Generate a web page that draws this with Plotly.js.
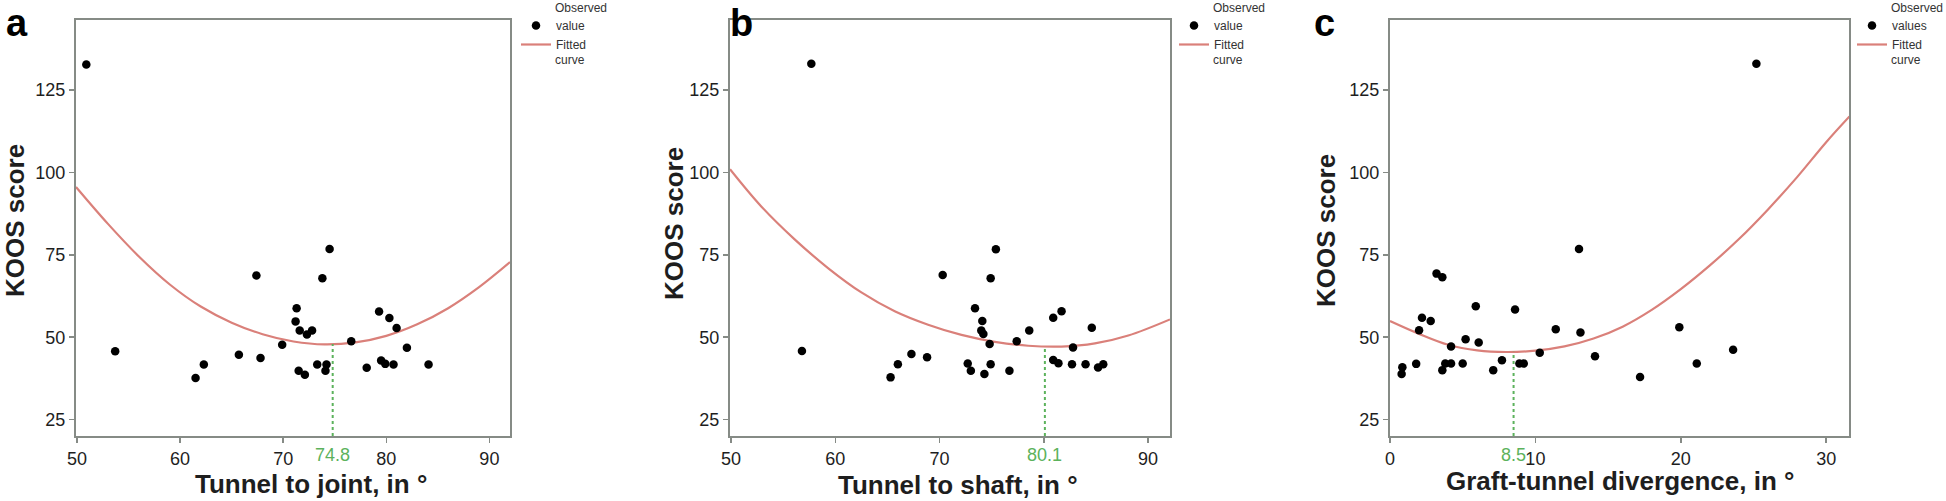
<!DOCTYPE html>
<html>
<head>
<meta charset="utf-8">
<script src="https://cdn.plot.ly/plotly-3.0.1.min.js"></script>
<style>
  html, body { margin: 0; padding: 0; background: #fff; }
  #chart { width: 1946px; height: 501px; }
</style>
</head>
<body>
<div id="chart"></div>
<script>
// ---------------- DATA ----------------
// Panel a: Tunnel to joint
const jointAngle = [50.9, 53.7, 61.5, 62.3, 65.7, 67.4, 67.8, 69.9, 71.3, 71.2, 71.6, 71.5, 72.1, 72.3, 72.8,
                    73.3, 73.8, 74.1, 74.2, 74.5, 76.6, 78.1, 79.3, 79.5, 79.9, 80.3, 80.7, 81.0, 82.0, 84.1];
const jointKoos  = [132.8, 45.7, 37.6, 41.7, 44.7, 68.7, 43.7, 47.7, 58.8, 54.8, 52.0, 39.8, 38.6, 50.8, 52.0,
                    41.7, 67.9, 39.8, 41.7, 76.8, 48.8, 40.7, 57.8, 42.9, 41.9, 55.8, 41.7, 52.8, 46.8, 41.7];
const jointFitX  = [49.9, 53, 56, 59, 62, 65, 68, 71, 74, 77, 80, 83, 86, 89, 92];
const jointFitY  = [95.6, 84.4, 74.5, 66.0, 59.3, 54.4, 50.9, 48.7, 47.8, 48.4, 50.4, 53.9, 58.8, 65.2, 72.8];

// Panel b: Tunnel to shaft
const shaftAngle = [57.7, 56.8, 65.3, 66.0, 67.3, 68.8, 70.3, 72.7, 73.0, 73.4, 74.1, 74.0, 74.2, 74.3, 74.8, 74.9,
                    74.9, 75.4, 76.7, 77.4, 78.6, 80.9, 80.9, 81.4, 81.7, 82.7, 82.8, 84.0, 84.6, 85.2, 85.7];
const shaftKoos  = [133.0, 45.8, 37.8, 41.8, 44.9, 43.9, 68.9, 42.0, 39.8, 58.8, 54.9, 52.0, 51.0, 38.8, 47.9, 41.8,
                    67.9, 76.7, 39.8, 48.8, 52.0, 55.9, 43.1, 42.1, 57.9, 41.8, 46.9, 41.8, 52.9, 40.8, 41.8];
const shaftFitX  = [49.9, 52.9, 56.1, 59.3, 62.5, 65.7, 68.9, 72.1, 75.3, 78.5, 81.7, 84.9, 88.1, 92.1];
const shaftFitY  = [101.0, 89.7, 79.7, 71.0, 63.6, 57.9, 53.8, 50.7, 48.6, 47.4, 47.15, 48.1, 50.5, 55.4];

// Panel c: Graft-tunnel divergence
const divAngle = [25.2, 0.8, 0.85, 1.8, 2.0, 2.2, 2.8, 3.2, 3.6, 3.6, 3.8, 4.2, 4.2, 5.0, 5.2, 5.9,
                  6.1, 7.1, 7.7, 8.6, 8.9, 9.2, 10.3, 11.4, 13.0, 13.1, 14.1, 17.2, 19.9, 21.1, 23.6];
const divKoos  = [133.0, 38.8, 40.9, 41.9, 52.1, 55.9, 54.9, 69.3, 68.2, 40.0, 42.0, 47.2, 42.0, 42.0, 49.4, 59.4,
                  48.4, 40.0, 43.0, 58.4, 42.0, 42.0, 45.3, 52.4, 76.8, 51.4, 44.2, 37.9, 53.0, 42.0, 46.2];
const divFitX  = [0, 2, 4, 6, 8, 10, 12, 14, 16, 18, 20, 22, 24, 26, 28, 30, 31.6];
const divFitY  = [54.9, 51.0, 47.7, 46.0, 45.5, 45.9, 47.2, 49.6, 53.2, 58.3, 64.6, 71.8, 79.8, 88.8, 98.6, 109.2, 117.0];

// Optimum (minimum of fitted curve) per panel
const optimumX     = [74.8, 80.1, 8.5];
const optimumY     = [47.9, 47.1, 45.6];
const optimumLabel = ['74.8', '80.1', '8.5'];

// Texts
const panelLetters = ['a', 'b', 'c'];
const xTitles      = ['Tunnel to joint, in °', 'Tunnel to shaft, in °', 'Graft-tunnel divergence, in °'];
const yTitle       = 'KOOS score';
const legendTop    = ['Observed', 'Observed', 'Observed'];
const legendMarker = ['value', 'value', 'values'];
const legendLine   = ['Fitted', 'Fitted', 'Fitted'];
const legendBottom = ['curve', 'curve', 'curve'];
const xTickVals    = [[50, 60, 70, 80, 90], [50, 60, 70, 80, 90], [0, 10, 20, 30]];
const xTickText    = [['50', '60', '70', '80', '90'], ['50', '60', '70', '', '90'], ['0', '10', '20', '30']];
const yTickVals    = [25, 50, 75, 100, 125];

// ---------------- STYLE / LAYOUT ----------------
const W = 1946, H = 501;
const px = v => v / W;
const py = v => 1 - v / H;

const FONT = 'Liberation Sans, Arial, Helvetica, sans-serif';
const INK = '#1e1e1e';
const FRAME = '#868b86';
const CURVE = 'rgb(218,128,122)';
const GREEN = 'rgb(92,178,92)';

const panels = [
  {xs: jointAngle, ys: jointKoos, fx: jointFitX, fy: jointFitY, left: 76, right: 510, xr: [49.9, 92.0],
   xTitleC: 311, yTitleX: 15, yTitleY: 221, letterX: 17, legX: 551, xTitleY: 484},
  {xs: shaftAngle, ys: shaftKoos, fx: shaftFitX, fy: shaftFitY, left: 730, right: 1170, xr: [49.9, 92.1],
   xTitleC: 958, yTitleX: 674, yTitleY: 224, letterX: 741, legX: 1209, xTitleY: 485},
  {xs: divAngle, ys: divKoos, fx: divFitX, fy: divFitY, left: 1390, right: 1849, xr: [0, 31.57],
   xTitleC: 1620, yTitleX: 1326, yTitleY: 231, letterX: 1324, legX: 1887, xTitleY: 481}
];
const PLOT_TOP = 20, PLOT_BOTTOM = 436;
const yRange = [20.0, 146.3];
const LEG_FONT = 12;

const traces = [];
const annotations = [];
const layout = {
  width: W, height: H,
  margin: {l: 0, r: 0, t: 0, b: 0, pad: 0},
  paper_bgcolor: '#fff', plot_bgcolor: '#fff',
  font: {family: FONT, color: INK},
  showlegend: true,
  annotations: annotations
};

panels.forEach((p, i) => {
  const sfx = i === 0 ? '' : String(i + 1);
  const xa = 'x' + sfx, ya = 'y' + sfx;
  const legName = i === 0 ? 'legend' : 'legend' + (i + 1);

  layout['xaxis' + sfx] = {
    domain: [px(p.left), px(p.right)], range: p.xr, anchor: ya,
    showgrid: false, zeroline: false,
    showline: true, mirror: true, linecolor: FRAME, linewidth: 2,
    ticks: 'outside', ticklen: 5, tickwidth: 1.5, tickcolor: FRAME,
    tickvals: xTickVals[i], ticktext: xTickText[i], tickfont: {size: 18, color: INK, family: FONT}
  };
  layout['yaxis' + sfx] = {
    domain: [py(PLOT_BOTTOM), py(PLOT_TOP)], range: yRange, anchor: xa,
    showgrid: false, zeroline: false,
    showline: true, mirror: true, linecolor: FRAME, linewidth: 2,
    ticks: 'outside', ticklen: 5, tickwidth: 1.5, tickcolor: FRAME,
    tickvals: yTickVals, tickfont: {size: 18, color: INK, family: FONT}
  };
  layout[legName] = {
    x: px(p.legX - 35), xanchor: 'left', y: py(11), yanchor: 'top',
    bgcolor: 'rgba(0,0,0,0)', borderwidth: 0,
    font: {size: LEG_FONT, color: '#333', family: FONT},
    tracegroupgap: 0, itemwidth: 30
  };

  // fitted curve
  traces.push({
    x: p.fx, y: p.fy, xaxis: xa, yaxis: ya, type: 'scatter', mode: 'lines',
    line: {color: CURVE, width: 2.2, shape: 'spline', smoothing: 1},
    name: legendLine[i], legend: legName, legendrank: 2, hoverinfo: 'skip'
  });
  // optimum dotted line
  traces.push({
    x: [optimumX[i], optimumX[i]], y: [yRange[0], optimumY[i]], xaxis: xa, yaxis: ya,
    type: 'scatter', mode: 'lines', line: {color: GREEN, width: 2, dash: 'dot'},
    showlegend: false, hoverinfo: 'skip'
  });
  // observed values
  traces.push({
    x: p.xs, y: p.ys, xaxis: xa, yaxis: ya, type: 'scatter', mode: 'markers',
    marker: {color: '#000', size: 8.5},
    name: legendMarker[i], legend: legName, legendrank: 1, cliponaxis: false
  });

  // green optimum tick label
  annotations.push({
    xref: xa, yref: 'paper', x: optimumX[i], y: py(455), xanchor: 'center', yanchor: 'middle',
    text: optimumLabel[i], showarrow: false, font: {size: 18, color: GREEN, family: FONT}
  });
  // x title
  annotations.push({
    xref: 'paper', yref: 'paper', x: px(p.xTitleC), y: py(p.xTitleY), xanchor: 'center', yanchor: 'middle',
    text: '<b>' + xTitles[i] + '</b>', showarrow: false, font: {size: 26, color: INK, family: FONT}
  });
  // y title
  annotations.push({
    xref: 'paper', yref: 'paper', x: px(p.yTitleX), y: py(p.yTitleY), xanchor: 'center', yanchor: 'middle',
    text: '<b>' + yTitle + '</b>', textangle: -90, showarrow: false, font: {size: 26, color: INK, family: FONT}
  });
  // panel letter
  annotations.push({
    xref: 'paper', yref: 'paper', x: px(p.letterX), y: 1, xanchor: 'center', yanchor: 'top',
    text: '<b>' + panelLetters[i] + '</b>', showarrow: false, font: {size: 38, color: '#000', family: FONT}
  });
  // legend extra lines
  annotations.push({
    xref: 'paper', yref: 'paper', x: px(p.legX + 2), y: py(8), xanchor: 'left', yanchor: 'middle',
    text: legendTop[i], showarrow: false, font: {size: LEG_FONT, color: '#333', family: FONT}
  });
  annotations.push({
    xref: 'paper', yref: 'paper', x: px(p.legX + 2), y: py(60), xanchor: 'left', yanchor: 'middle',
    text: legendBottom[i], showarrow: false, font: {size: LEG_FONT, color: '#333', family: FONT}
  });
});

Plotly.newPlot('chart', traces, layout, {displayModeBar: false, staticPlot: true});
</script>
</body>
</html>
